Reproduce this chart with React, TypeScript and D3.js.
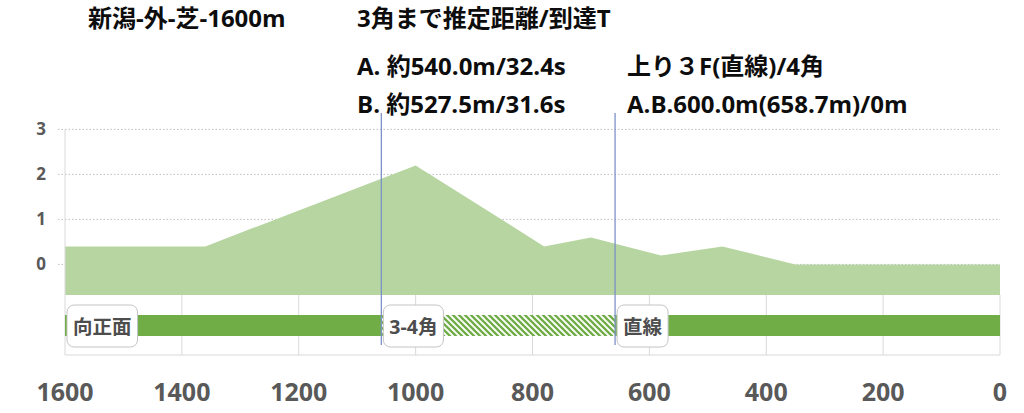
import React, { useEffect, useRef } from "react";
import * as d3 from "d3";

const distances = [1600, 1360, 1000, 780, 700, 580, 475, 350, 0];
const elevations = [0.4, 0.4, 2.2, 0.4, 0.6, 0.2, 0.4, 0, 0];
const xTicks = [1600, 1400, 1200, 1000, 800, 600, 400, 200, 0];
const yTicks = [0, 1, 2, 3];
const markers = [1058.7, 658.7];
const sectionLabels = ["向正面", "3-4角", "直線"];
const sectionFrom = [1600, 1058.7, 658.7];
const sectionTo = [1058.7, 658.7, 0];
const sectionHatched = [false, true, false];
const titleMain = "新潟-外-芝-1600m";
const infoLines = ["3角まで推定距離/到達T", "A. 約540.0m/32.4s", "B. 約527.5m/31.6s"];
const infoLines2 = ["上り３F(直線)/4角", "A.B.600.0m(658.7m)/0m"];

const FONT = "'Open Sans', 'Noto Sans CJK JP', sans-serif";

export default function App() {
  const ref = useRef<SVGSVGElement | null>(null);

  useEffect(() => {
    const svg = d3.select(ref.current);
    svg.selectAll("*").remove();

    const x = d3.scaleLinear().domain([1600, 0]).range([65, 1000]);
    const y = d3.scaleLinear().domain([-0.68, 3]).range([295, 129.4]);
    const bandTop = 295, bandBottom = 355, barTop = 315, barBottom = 336;

    const defs = svg.append("defs");
    const pat = defs.append("pattern")
      .attr("id", "hatch").attr("patternUnits", "userSpaceOnUse")
      .attr("width", 6).attr("height", 6);
    pat.append("rect").attr("width", 6).attr("height", 6).attr("fill", "#ffffff");
    pat.append("path").attr("d", "M-1,-1 L7,7 M-1,5 L1,7 M5,-1 L7,1")
      .attr("stroke", "#70ad47").attr("stroke-width", 2.3);

    // gridlines
    svg.append("g").selectAll("line").data(yTicks).join("line")
      .attr("x1", 58).attr("x2", 1000)
      .attr("y1", d => y(d)).attr("y2", d => y(d))
      .attr("stroke", "#bfbfbf").attr("stroke-width", 1)
      .attr("stroke-dasharray", "1.5,2");

    // area
    const pts = distances.map((d, i) => [d, elevations[i]] as [number, number]);
    const area = d3.area<[number, number]>()
      .x(d => x(d[0])).y0(y(-0.68)).y1(d => y(d[1]));
    svg.append("path").datum(pts).attr("d", area).attr("fill", "#b7d5a1");

    // lower band grid
    svg.append("g").selectAll("line").data(xTicks.filter(t => t !== 1600)).join("line")
      .attr("x1", d => x(d)).attr("x2", d => x(d))
      .attr("y1", bandTop).attr("y2", bandBottom)
      .attr("stroke", "#d9d9d9").attr("stroke-width", 1);
    svg.append("line").attr("x1", x(1600)).attr("x2", x(0))
      .attr("y1", bandBottom).attr("y2", bandBottom)
      .attr("stroke", "#d9d9d9").attr("stroke-width", 1);
    // left axis
    svg.append("line").attr("x1", x(1600)).attr("x2", x(1600))
      .attr("y1", y(3)).attr("y2", bandBottom)
      .attr("stroke", "#d9d9d9").attr("stroke-width", 1);

    // bars
    svg.append("g").selectAll("rect").data(sectionLabels).join("rect")
      .attr("x", (_, i) => x(sectionFrom[i]))
      .attr("width", (_, i) => x(sectionTo[i]) - x(sectionFrom[i]))
      .attr("y", barTop).attr("height", barBottom - barTop)
      .attr("fill", (_, i) => sectionHatched[i] ? "url(#hatch)" : "#70ad47");

    // marker lines
    svg.append("g").selectAll("line").data(markers).join("line")
      .attr("x1", d => x(d)).attr("x2", d => x(d))
      .attr("y1", 113).attr("y2", 345)
      .attr("stroke", "#7b91c6").attr("stroke-width", 1.3);

    // section label boxes
    sectionLabels.forEach((lab, i) => {
      const g = svg.append("g");
      const rect = g.append("rect");
      const t = g.append("text").text(lab)
        .attr("font-family", FONT).attr("font-weight", 700).attr("font-size", 19.5)
        .attr("fill", "#4d4d4d").attr("dominant-baseline", "central")
        .attr("x", x(sectionFrom[i]) + 2 + 6).attr("y", 326);
      const w = (t.node() as SVGTextElement).getComputedTextLength();
      rect.attr("x", x(sectionFrom[i]) + 2).attr("y", 305)
        .attr("width", w + 12).attr("height", 42).attr("rx", 7)
        .attr("fill", "#ffffff").attr("stroke", "#c4c4c4").attr("stroke-width", 1);
    });

    // y labels
    svg.append("g").selectAll("text").data(yTicks).join("text")
      .attr("x", 46).attr("y", d => y(d) + 5.8)
      .attr("text-anchor", "end")
      .attr("font-family", FONT).attr("font-weight", 700).attr("font-size", 17)
      .attr("fill", "#595959").text(d => String(d));

    // x labels
    svg.append("g").selectAll("text").data(xTicks).join("text")
      .attr("x", d => x(d)).attr("y", 401)
      .attr("text-anchor", "middle")
      .attr("font-family", FONT).attr("font-weight", 700).attr("font-size", 25)
      .attr("fill", "#595959").text(d => String(d));

    // titles
    const tg = svg.append("g").attr("font-family", FONT).attr("font-weight", 700)
      .attr("font-size", 24).attr("fill", "#0d0d0d");
    tg.append("text").attr("x", 88).attr("y", 27).text(titleMain);
    const ys = [27, 75, 113];
    infoLines.forEach((s, i) => tg.append("text").attr("x", 357).attr("y", ys[i]).text(s));
    infoLines2.forEach((s, i) => tg.append("text").attr("x", 627).attr("y", ys[i + 1]).text(s));
  }, []);

  return (
    <svg ref={ref} width={1024} height={413}
      style={{ position: "absolute", left: 0, top: 0, display: "block", background: "#fff" }} />
  );
}
